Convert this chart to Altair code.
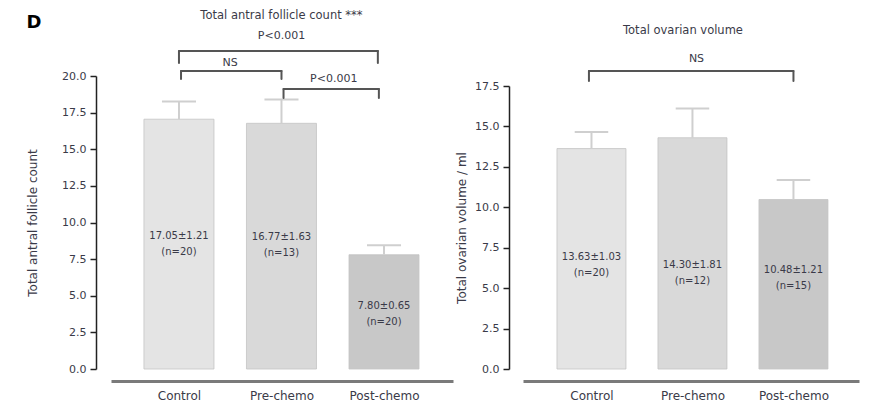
import json
import altair as alt
import pandas as pd

# ---------------- data ----------------
groups = ["Control", "Pre-chemo", "Post-chemo"]
group_idx = [0, 1, 2]

afc_mean = [17.05, 16.77, 7.80]
afc_sem = [1.21, 1.63, 0.65]
afc_n = [20, 13, 20]

vol_mean = [13.63, 14.30, 10.48]
vol_sem = [1.03, 1.81, 1.21]
vol_n = [20, 12, 15]

bar_fill = ["#e4e4e4", "#d9d9d9", "#c8c8c8"]

afc_ticks = [0.0, 2.5, 5.0, 7.5, 10.0, 12.5, 15.0, 17.5, 20.0]
vol_ticks = [0.0, 2.5, 5.0, 7.5, 10.0, 12.5, 15.0, 17.5]

# in-bar label heights (data units)
afc_label_y = [9.11, 9.04, 4.27]
vol_label_y = [6.90, 6.43, 6.15]

# significance brackets (group index from/to, level, drop, text)
afc_br_from = [0.0, 0.02, 1.02]
afc_br_to = [1.94, 1.0, 1.95]
afc_br_level = [21.71, 20.34, 19.11]
afc_br_drop = [20.89, 19.80, 18.50]
afc_br_text = ["P<0.001", "NS", "P<0.001"]
afc_br_text_x = [1.0, 0.5, 1.51]
afc_br_text_y = [22.73, 20.89, 19.80]

vol_br_from = [-0.025]
vol_br_to = [2.0]
vol_br_level = [18.43]
vol_br_drop = [17.81]
vol_br_text = ["NS"]
vol_br_text_x = [1.04]
vol_br_text_y = [19.17]

afc_title = "Total antral follicle count ***"
afc_title_pos = (1.0, 24.1)
vol_title = "Total ovarian volume"
vol_title_pos = (0.906, 20.9)
panel_letter = "D"
panel_letter_pos = (-1.415, 23.6)

# ---------------- style ----------------
FONT = "DejaVu Sans"
TXT = "#3a3a48"
BAR_HALF = 0.3415
CAP_HALF = 0.166


def panel(means, sems, ns, label_y, br_from, br_to, br_level, br_drop, br_text,
          br_tx, br_ty, title, title_pos, ytitle, ymax, yticks, xdom, width,
          height, yrange, yoffset, tpad, extra_texts):
    bars = pd.DataFrame({
        "idx": group_idx,
        "group": groups,
        "mean": means,
        "sem": sems,
        "fill": bar_fill,
        "ly": label_y,
        "text": [f"{m:.2f}\u00b1{s:.2f}\n(n={n})" for m, s, n in zip(means, sems, ns)],
    })
    xs = alt.Scale(domain=xdom, nice=False, zero=False)
    ys = alt.Scale(domain=[0, ymax], nice=False, zero=True, range=yrange)
    xaxis = alt.Axis(
        values=group_idx,
        labelExpr=json.dumps(groups) + "[datum.value]",
        ticks=False, grid=False, domainColor="#7a7a7a", domainWidth=3,
        offset=12, labelPadding=9, labelFontSize=12, labelFont=FONT,
        labelColor=TXT, labelFlush=False, labelOverlap=False, title=None,
    )
    yaxis = alt.Axis(
        values=yticks, format=".1f", title=ytitle, titleFont=FONT,
        titleFontSize=12, titleFontWeight="normal", titleColor=TXT,
        titlePadding=tpad, labelFont=FONT, labelFontSize=11, labelColor=TXT,
        labelPadding=4, tickSize=6, tickWidth=1.5, tickColor="#222222",
        domainColor="#222222", domainWidth=1.5, grid=False, offset=yoffset,
        labelOverlap=False,
    )

    def X(f):
        return alt.X(f, type="quantitative", scale=xs, axis=xaxis)

    def Y(f):
        return alt.Y(f, type="quantitative", scale=ys, axis=yaxis)

    base = alt.Chart(bars).transform_calculate(
        lo=f"datum.idx - {BAR_HALF}", hi=f"datum.idx + {BAR_HALF}",
        top="datum.mean + datum.sem",
        cl=f"datum.idx - {CAP_HALF}", cr=f"datum.idx + {CAP_HALF}",
    )
    bar_layer = base.mark_bar(stroke="#c4c4c4", strokeWidth=0.8).encode(
        x=X("lo"), x2="hi:Q", y=Y("mean"), y2=alt.datum(0),
        color=alt.Color("fill:N", scale=None),
    )
    stem = base.mark_rule(color="#cfcfcf", strokeWidth=2).encode(
        x=X("idx"), y=Y("mean"), y2="top:Q")
    cap = base.mark_rule(color="#cfcfcf", strokeWidth=2).encode(
        x=X("cl"), x2="cr:Q", y=Y("top"))
    lab = base.mark_text(font=FONT, fontSize=10, color=TXT, baseline="middle",
                         lineBreak="\n", lineHeight=16).encode(
        x=X("idx"), y=Y("ly"), text="text:N")

    br = pd.DataFrame({"x1": br_from, "x2": br_to, "lv": br_level,
                       "dp": br_drop, "t": br_text, "tx": br_tx, "ty": br_ty})
    drops = pd.DataFrame({
        "x": list(br_from) + list(br_to),
        "lv": list(br_level) * 2,
        "dp": list(br_drop) * 2,
    })
    hbr = alt.Chart(br).mark_rule(color="#555555", strokeWidth=2,
                                  strokeCap="round").encode(
        x=X("x1"), x2="x2:Q", y=Y("lv"))
    vbr = alt.Chart(drops).mark_rule(color="#555555", strokeWidth=2,
                                     strokeCap="round").encode(
        x=X("x"), y=Y("lv"), y2="dp:Q")
    brt = alt.Chart(br).mark_text(font=FONT, fontSize=11, color=TXT,
                                  baseline="middle").encode(
        x=X("tx"), y=Y("ty"), text="t:N")

    tdf = pd.DataFrame({"t": [title], "x": [title_pos[0]], "y": [title_pos[1]]})
    ttl = alt.Chart(tdf).mark_text(font=FONT, fontSize=11.5, color=TXT,
                                   baseline="middle").encode(
        x=X("x"), y=Y("y"), text="t:N")

    layers = [bar_layer, stem, cap, lab, hbr, vbr, brt, ttl]
    for (txt, px, py, size, weight, color) in extra_texts:
        edf = pd.DataFrame({"t": [txt], "x": [px], "y": [py]})
        layers.append(alt.Chart(edf).mark_text(
            font=FONT, fontSize=size, fontWeight=weight, color=color,
            baseline="middle").encode(
            x=X("x"), y=Y("y"), text="t:N"))
    return alt.layer(*layers).properties(width=width, height=height)


left = panel(afc_mean, afc_sem, afc_n, afc_label_y, afc_br_from, afc_br_to,
             afc_br_level, afc_br_drop, afc_br_text, afc_br_text_x,
             afc_br_text_y, afc_title, afc_title_pos,
             "Total antral follicle count", 20.0, afc_ticks,
             [-0.663, 2.673], 342, 293, [293, 0], 15, 22,
             [(panel_letter, panel_letter_pos[0], panel_letter_pos[1], 18,
               "bold", "#000000")])

right = panel(vol_mean, vol_sem, vol_n, vol_label_y, vol_br_from, vol_br_to,
              vol_br_level, vol_br_drop, vol_br_text, vol_br_text_x,
              vol_br_text_y, vol_title, vol_title_pos,
              "Total ovarian volume / ml", 17.5, vol_ticks,
              [-0.678, 2.649], 336, 293, [293, 10], 14, 6, [])

chart = alt.hconcat(left, right, spacing=2).properties(
    padding={"left": 26, "top": 9, "right": 5, "bottom": 5},
    background="white",
).configure_view(strokeWidth=0)

chart.save("out.html", embed_options={"renderer": "svg", "actions": False})
